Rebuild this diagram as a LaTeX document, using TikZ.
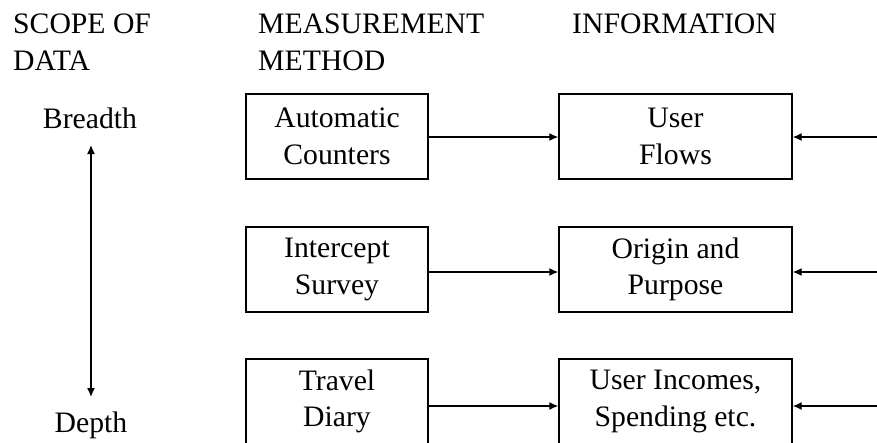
\documentclass[tikz,border=0pt]{standalone}
\usepackage{fontspec}
\setmainfont{Liberation Serif}
\newfontfamily\labelface{Liberation Serif}
\usetikzlibrary{arrows.meta}
\begin{document}
\begin{tikzpicture}[x=1pt,y=-1pt,
  every node/.style={font=\labelface\fontsize{29.7}{36.5}\selectfont, inner sep=0pt},
  methodbox/.style={draw, line width=1.4pt, minimum width=182pt, minimum height=85pt, align=center},
  infobox/.style={draw, line width=1.4pt, minimum width=233pt, minimum height=85pt, align=center},
  tip/.style={Latex[length=9pt,width=8pt]},
  flow/.style={line width=1.4pt, -{Latex[length=9pt,width=8pt]}},
  head/.style={anchor=base west}]
  % page frame, with the lowest row running off the bottom edge
  \path[use as bounding box, clip] (0,0) rectangle (877,442);

  % column headings
  \node[head] (h1a) at (13,33) {SCOPE OF};
  \node[head] (h1b) at (13,70) {DATA};
  \node[head] (h2a) at (258,33) {MEASUREMENT};
  \node[head] (h2b) at (258,70) {METHOD};
  \node[head] (h3)  at (572,33) {INFORMATION};

  % scope axis
  \node[anchor=base] (breadth) at (90,128) {Breadth};
  \node[anchor=base] (depth) at (91,432) {Depth};
  \coordinate (axtop) at (91,145);
  \coordinate (axbot) at (91,397);
  \draw[line width=1.4pt, {Latex[length=9pt,width=8pt]}-{Latex[length=9pt,width=8pt]}] (axtop) -- (axbot);

  % measurement methods
  \node[methodbox] (m1) at (337,136.5) {Automatic\\Counters};
  \node[methodbox] (m2) at (337,269.5) {Intercept\\Survey};
  \node[methodbox] (m3) at (337,401.5) {Travel\\Diary};

  % information gained
  \node[infobox] (i1) at (675.5,136.5) {User\\Flows};
  \node[infobox] (i2) at (675.5,269.5) {Origin and\\Purpose};
  \node[infobox] (i3) at (675.5,401.5) {User Incomes,\\Spending etc.};

  % inputs arriving from the right
  \coordinate (r1) at (877,137);
  \coordinate (r2) at (877,272);
  \coordinate (r3) at (877,406);

  \draw[flow] ([yshift=-0.5pt]m1.east) -- ([yshift=-0.5pt]i1.west);
  \draw[flow] ([yshift=-2.5pt]m2.east) -- ([yshift=-2.5pt]i2.west);
  \draw[flow] ([yshift=-4.5pt]m3.east) -- ([yshift=-4.5pt]i3.west);

  \draw[flow] (r1) -- (i1.east |- r1);
  \draw[flow] (r2) -- (i2.east |- r2);
  \draw[flow] (r3) -- (i3.east |- r3);
\end{tikzpicture}
\end{document}
